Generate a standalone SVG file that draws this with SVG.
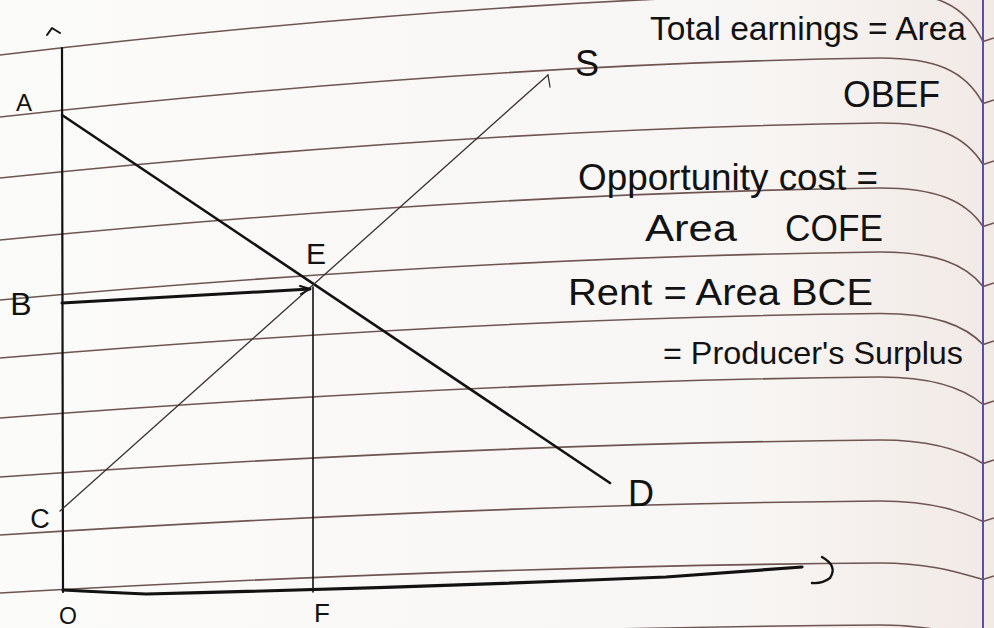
<svg xmlns="http://www.w3.org/2000/svg" width="994" height="628" viewBox="0 0 994 628">
<defs>
<linearGradient id="paperGrad" x1="0" y1="0" x2="1" y2="0">
<stop offset="0" stop-color="#fbfbfa"/>
<stop offset="0.75" stop-color="#f8f6f4"/>
<stop offset="1" stop-color="#f1e9e5"/>
</linearGradient>
<style>
.rule{fill:none;stroke:#6e5552;stroke-width:1.6}
.ink{fill:none;stroke:#121212;stroke-linecap:round;stroke-linejoin:round}
.thin{fill:none;stroke:#3a2f2f;stroke-width:1.3;stroke-linecap:round}
.lbl{font-family:"Liberation Sans","DejaVu Sans",sans-serif;fill:#121212}
.note{font-family:"Liberation Sans","DejaVu Sans",sans-serif;fill:#121212;font-size:36px}
</style>
</defs>
<g id="paper">
<rect x="0" y="0" width="994" height="628" fill="url(#paperGrad)"/>
<path class="rule" d="M0,55 Q480,-1.7 880,-8 C935,-8 965,4 983,41.5 L994,38"/>
<path class="rule" d="M0,117 Q480,63.9 880,58 C935,58 965,70 983,103.5 L994,100"/>
<path class="rule" d="M0,178 Q480,128.5 880,123 C935,123 965,135 983,164.5 L994,161"/>
<path class="rule" d="M0,240 Q480,193.2 880,188 C935,188 965,200 983,226.5 L994,223"/>
<path class="rule" d="M0,300 Q480,256.8 880,252 C935,252 965,264 983,286.5 L994,283"/>
<path class="rule" d="M0,358 Q480,318 880,313.5 C935,313.5 965,325.5 983,344.5 L994,341"/>
<path class="rule" d="M0,418 Q480,381 880,377 C935,377 965,389 983,404.5 L994,401"/>
<path class="rule" d="M0,477 Q480,443.7 880,440 C935,440 965,452 983,463.5 L994,460"/>
<path class="rule" d="M0,535 Q480,504.4 880,501 C935,501 965,513 983,521.5 L994,518"/>
<path class="rule" d="M0,593 Q480,566 880,563 C935,563 965,575 983,579.5 L994,576"/>
<path class="rule" d="M0,652 Q480,627.7 880,625 C935,625 965,637 983,638.5"/>
<line x1="983" y1="0" x2="983" y2="628" stroke="#5b4fa0" stroke-width="2"/>
</g>
<g id="axes">
<line class="ink" x1="62" y1="48" x2="63" y2="592" stroke-width="2.2"/>
<path class="ink" d="M47,35 L52,28 L60,33" stroke-width="2"/>
<path class="ink" d="M63,590 Q100,592 146,594 Q400,588 666,577 L802,567" stroke-width="3.2"/>
<path class="ink" d="M822,557 Q838,566 830,578 Q822,584 812,583" stroke-width="2.4"/>
</g>
<g id="connectors">
<line id="demand" class="ink" x1="62" y1="115" x2="610" y2="483" stroke-width="2.6"/>
<line id="supply" class="thin" x1="60" y1="511" x2="548" y2="75"/>
<path class="thin" d="M548,75 L550,87"/>
<path id="price-line" class="ink" d="M62,303 L310,289" stroke-width="3"/>
<path class="ink" d="M300,286 L310,289 L301,294" stroke-width="2"/>
<line id="quantity-line" class="ink" x1="313" y1="287" x2="313" y2="592" stroke-width="1.6"/>
</g>
<g id="A"><text class="lbl" x="24" y="111" font-size="24" text-anchor="middle">A</text></g>
<g id="B"><text class="lbl" x="21" y="315" font-size="32" text-anchor="middle">B</text></g>
<g id="C"><text class="lbl" x="40" y="528" font-size="27" text-anchor="middle">C</text></g>
<g id="O"><text class="lbl" x="68" y="624" font-size="23" text-anchor="middle">O</text></g>
<g id="F"><text class="lbl" x="322" y="622" font-size="26" text-anchor="middle">F</text></g>
<g id="E"><text class="lbl" x="316" y="264" font-size="30" text-anchor="middle">E</text></g>
<g id="S"><text class="lbl" x="587" y="76" font-size="36" text-anchor="middle">S</text></g>
<g id="D"><text class="lbl" x="641" y="506" font-size="36" text-anchor="middle">D</text></g>
<g id="notes">
<text class="note" x="650" y="40" font-size="33" style="font-size:33px" textLength="316" lengthAdjust="spacingAndGlyphs">Total earnings = Area</text>
<text class="note" x="843" y="107" textLength="97" lengthAdjust="spacingAndGlyphs">OBEF</text>
<text class="note" x="578" y="190" textLength="300" lengthAdjust="spacingAndGlyphs">Opportunity cost =</text>
<text class="note" x="645" y="241" textLength="92" lengthAdjust="spacingAndGlyphs">Area</text>
<text class="note" x="785" y="241" textLength="98" lengthAdjust="spacingAndGlyphs">COFE</text>
<text class="note" x="568" y="305" textLength="305" lengthAdjust="spacingAndGlyphs">Rent = Area BCE</text>
<text class="note" x="663" y="364" style="font-size:32px" textLength="300" lengthAdjust="spacingAndGlyphs">= Producer's Surplus</text>
</g>
</svg>
